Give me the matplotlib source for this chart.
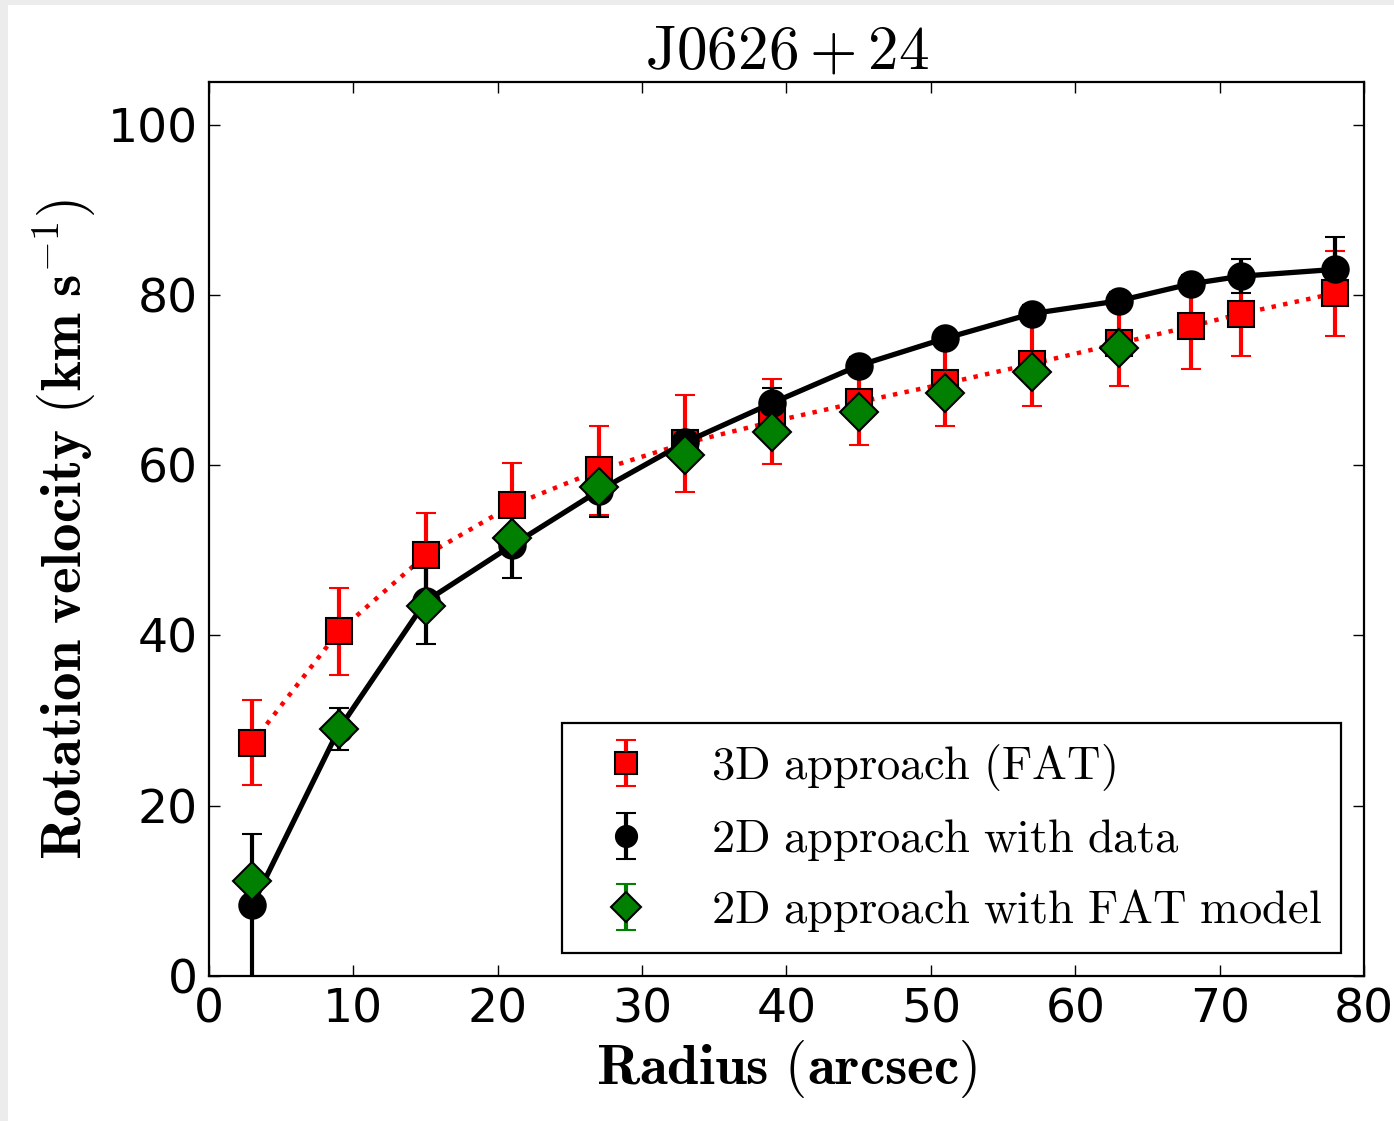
import matplotlib
matplotlib.use('Agg')
import matplotlib.pyplot as plt
from matplotlib.patches import Rectangle

plt.rcParams['mathtext.fontset'] = 'cm'
plt.rcParams['font.family'] = 'DejaVu Sans'

# radius (arcsec)
radius = [3, 9, 15, 21, 27, 33, 39, 45, 51, 57, 63, 68, 71.5, 78]

# 3D approach (FAT)
v_fat = [27.4, 40.5, 49.4, 55.3, 59.4, 62.6, 65.1, 67.4, 69.6, 71.9, 74.3, 76.3, 77.8, 80.2]
e_fat = [5.0, 5.1, 5.0, 5.0, 5.2, 5.7, 5.0, 5.0, 5.0, 5.0, 5.0, 5.0, 5.0, 5.0]

# 2D approach with data
v_data = [8.3, 29.0, 44.0, 50.6, 57.0, 62.7, 67.3, 71.7, 74.9, 77.8, 79.3, 81.3, 82.2, 83.0]
e_data = [8.4, 2.5, 5.0, 3.8, 3.1, 1.0, 1.8, 1.0, 1.0, 1.0, 1.0, 1.0, 2.0, 3.8]

# 2D approach with FAT model
r_model = [3, 9, 15, 21, 27, 33, 39, 45, 51, 57, 63]
v_model = [11.2, 29.0, 43.5, 51.4, 57.4, 61.2, 63.9, 66.2, 68.5, 70.9, 73.8]
e_model = [1.0, 1.0, 1.0, 1.0, 1.0, 1.0, 1.0, 1.0, 1.0, 1.0, 1.0]

fig = plt.figure(figsize=(13.94, 11.21), dpi=100, facecolor='#ececec')
fig.add_artist(Rectangle((8 / 1394, 0), 1, 1 - 5 / 1121, transform=fig.transFigure,
                         facecolor='white', edgecolor='none', zorder=-10))
ax = fig.add_axes([0.1499, 0.1293, 0.8286, 0.7975])

err_kw = dict(mec='black', mew=1.5, ms=19, elinewidth=3, capsize=7, capthick=1.5, ls='none')

# connecting lines drawn apart so the legend shows only marker + error bar
ax.plot(radius, v_fat, color='red', ls=':', lw=3.2)
ax.errorbar(radius, v_fat, yerr=e_fat, marker='s', mfc='red', ecolor='red',
            label=r'$\mathrm{3D\ approach\ (FAT)}$', **err_kw)
ax.plot(radius, v_data, color='black', ls='-', lw=3.8)
ax.errorbar(radius, v_data, yerr=e_data, marker='o', mfc='black', ecolor='black',
            label=r'$\mathrm{2D\ approach\ with\ data}$', **err_kw)
ax.errorbar(r_model, v_model, yerr=e_model, marker='D', mfc='#007f00', ecolor='#007f00',
            label=r'$\mathrm{2D\ approach\ with\ FAT\ model}$', **err_kw)

ax.set_xlim(0, 80)
ax.set_ylim(0, 105)
ax.set_yticks([0, 20, 40, 60, 80, 100])
ax.tick_params(direction='in', top=True, right=True, length=8, width=1, labelsize=34, pad=8)
for s in ax.spines.values():
    s.set_linewidth(1.6)

ax.set_title(r'$\mathrm{J0626+24}$', fontsize=44, pad=10)
ax.set_xlabel(r'$\mathbf{Radius}\ (\mathbf{arcsec})$', fontsize=41, labelpad=4)
ax.set_ylabel(r'$\mathbf{Rotation\ velocity}\ (\mathbf{km\ s}^{-1})$', fontsize=41, labelpad=8)

leg = ax.legend(loc='lower right', bbox_to_anchor=(0.980, 0.0257), borderaxespad=0,
                fontsize=33.5, fancybox=False, edgecolor='black', framealpha=1,
                markerscale=0.8, handlelength=1.95, handletextpad=0.85, labelspacing=0.52)
leg.get_frame().set_linewidth(1.6)

fig.savefig('out.png', dpi=100, facecolor=fig.get_facecolor())
